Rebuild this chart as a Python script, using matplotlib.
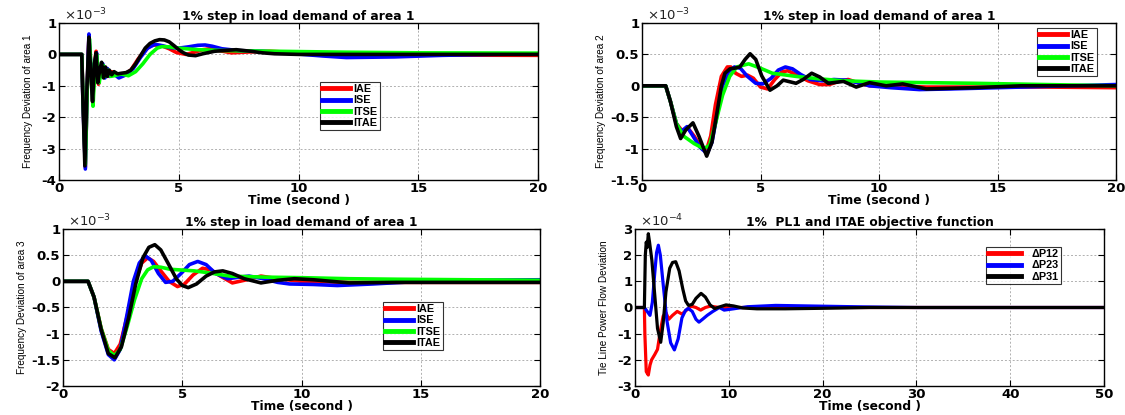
import matplotlib
matplotlib.use("Agg")
import matplotlib.pyplot as plt

# ---------------- data (values in units shown on each axis) ----------------
# Panel 1: frequency deviation of area 1 (x1e-3)
p1_iae_t = [0, 0.95, 1.0, 1.1, 1.18, 1.25, 1.33, 1.41, 1.48, 1.55, 1.65, 1.73, 1.8, 1.9, 2.0, 2.1, 2.2, 2.4, 2.7, 3.0, 3.3, 3.6, 3.85, 4.0, 4.3, 4.6, 4.9, 5.3, 5.7, 6.0, 6.3, 6.7, 7.2, 8.0, 8.8, 10, 12, 15, 20]
p1_iae_v = [0, 0, -1.4, -3.6, -1.0, 0.6, -0.5, -1.55, -0.3, 0.1, -0.95, -0.5, -0.3, -0.7, -0.45, -0.7, -0.55, -0.62, -0.65, -0.5, -0.15, 0.15, 0.28, 0.3, 0.27, 0.18, 0.06, 0.0, 0.08, 0.15, 0.18, 0.12, 0.05, 0.08, 0.1, 0.05, 0.0, -0.02, -0.03]

p1_ise_t = [0, 0.95, 1.0, 1.1, 1.18, 1.25, 1.33, 1.41, 1.48, 1.57, 1.66, 1.75, 1.83, 1.92, 2.02, 2.12, 2.25, 2.5, 2.8, 3.1, 3.4, 3.7, 4.0, 4.3, 4.6, 5.0, 5.4, 5.8, 6.1, 6.4, 6.8, 7.5, 8.5, 9.5, 11, 12, 14, 16, 18, 20]
p1_ise_v = [0, 0, -1.5, -3.65, -1.0, 0.65, -0.4, -1.5, -0.3, 0.05, -0.9, -0.45, -0.3, -0.75, -0.45, -0.7, -0.6, -0.75, -0.65, -0.45, -0.1, 0.2, 0.32, 0.28, 0.22, 0.2, 0.24, 0.29, 0.3, 0.26, 0.18, 0.12, 0.1, 0.04, -0.05, -0.1, -0.08, -0.03, 0.0, 0.02]

p1_itse_t = [0, 0.95, 1.0, 1.1, 1.18, 1.27, 1.35, 1.42, 1.5, 1.57, 1.68, 1.77, 1.85, 1.95, 2.05, 2.15, 2.3, 2.6, 2.9, 3.2, 3.5, 3.8, 4.1, 4.3, 4.6, 5.0, 5.8, 7.0, 9.0, 12, 15, 20]
p1_itse_v = [0, 0, -1.3, -3.5, -1.1, 0.5, -0.6, -1.65, -0.4, 0.0, -0.9, -0.45, -0.35, -0.7, -0.5, -0.7, -0.68, -0.62, -0.68, -0.55, -0.3, 0.0, 0.2, 0.25, 0.24, 0.2, 0.15, 0.12, 0.1, 0.07, 0.05, 0.04]

p1_itae_t = [0, 0.95, 1.0, 1.08, 1.17, 1.25, 1.32, 1.4, 1.48, 1.55, 1.62, 1.7, 1.78, 1.86, 1.94, 2.02, 2.1, 2.2, 2.3, 2.45, 2.6, 2.8, 3.0, 3.2, 3.4, 3.6, 3.8, 4.0, 4.2, 4.4, 4.6, 4.8, 5.0, 5.2, 5.4, 5.7, 6.0, 6.5, 7.0, 7.4, 8.0, 8.5, 9.0, 10, 12, 14, 16, 18, 20]
p1_itae_v = [0, 0, -1.5, -3.55, -1.0, 0.55, -0.5, -1.5, -0.3, 0.05, -0.9, -0.5, -0.25, -0.75, -0.4, -0.7, -0.5, -0.65, -0.55, -0.62, -0.6, -0.58, -0.5, -0.3, -0.05, 0.2, 0.35, 0.43, 0.47, 0.46, 0.4, 0.28, 0.15, 0.05, -0.02, -0.04, 0.02, 0.1, 0.13, 0.15, 0.1, 0.05, 0.02, 0.0, 0.0, 0.0, 0.0, 0.0, 0.0]

# Panel 2: frequency deviation of area 2 (x1e-3)
p2_iae_t = [0, 1.0, 1.2, 1.45, 1.7, 1.95, 2.2, 2.5, 2.7, 2.9, 3.1, 3.35, 3.6, 3.75, 3.95, 4.2, 4.45, 4.7, 5.0, 5.3, 5.6, 5.9, 6.15, 6.5, 7.0, 7.5, 7.9, 8.3, 8.7, 9.1, 9.6, 10.5, 12, 14, 17, 20]
p2_iae_v = [0, 0, -0.25, -0.6, -0.72, -0.68, -0.8, -0.98, -1.05, -0.8, -0.3, 0.15, 0.3, 0.3, 0.2, 0.15, 0.17, 0.12, -0.02, -0.05, 0.1, 0.22, 0.24, 0.18, 0.08, 0.02, 0.02, 0.07, 0.1, 0.05, 0.0, 0.0, -0.02, -0.02, -0.02, -0.03]

p2_ise_t = [0, 1.0, 1.2, 1.45, 1.65, 1.9, 2.15, 2.45, 2.75, 2.95, 3.15, 3.4, 3.65, 3.9, 4.15, 4.45, 4.8, 5.1, 5.45, 5.75, 6.05, 6.35, 6.7, 7.1, 7.6, 8.1, 8.6, 9.1, 9.6, 10.5, 11.7, 13, 15, 17, 20]
p2_ise_v = [0, 0, -0.25, -0.6, -0.73, -0.65, -0.8, -0.98, -1.08, -0.9, -0.5, 0.0, 0.22, 0.3, 0.28, 0.15, 0.04, 0.03, 0.12, 0.25, 0.3, 0.27, 0.18, 0.1, 0.08, 0.1, 0.09, 0.05, 0.0, -0.03, -0.06, -0.05, -0.03, -0.01, 0.02]

p2_itse_t = [0, 1.0, 1.2, 1.45, 1.75, 2.2, 2.6, 2.85, 3.1, 3.4, 3.7, 4.0, 4.5, 5.0, 5.5, 6.5, 7.5, 8.5, 10, 12, 14, 17, 20]
p2_itse_v = [0, 0, -0.25, -0.6, -0.8, -0.92, -1.0, -0.95, -0.6, -0.15, 0.15, 0.3, 0.35, 0.28, 0.2, 0.15, 0.11, 0.08, 0.06, 0.05, 0.04, 0.02, 0.0]

p2_itae_t = [0, 1.0, 1.2, 1.45, 1.63, 1.85, 2.15, 2.4, 2.73, 2.95, 3.16, 3.35, 3.5, 3.71, 3.9, 4.13, 4.35, 4.56, 4.8, 5.05, 5.4, 5.7, 5.96, 6.5, 6.8, 7.16, 7.5, 7.86, 8.5, 9.04, 9.6, 10.3, 11, 12, 13, 14, 16, 20]
p2_itae_v = [0, 0, -0.25, -0.65, -0.84, -0.7, -0.59, -0.8, -1.12, -0.9, -0.44, 0.0, 0.2, 0.27, 0.28, 0.3, 0.42, 0.51, 0.42, 0.16, -0.07, 0.0, 0.09, 0.04, 0.1, 0.2, 0.14, 0.04, 0.07, -0.02, 0.05, 0.0, 0.03, -0.05, -0.04, -0.03, 0.0, 0.0]

# Panel 3: frequency deviation of area 3 (x1e-3)
p3_iae_t = [0, 1.05, 1.3, 1.6, 1.9, 2.15, 2.4, 2.7, 3.0, 3.3, 3.55, 3.8, 4.1, 4.45, 4.8, 5.1, 5.45, 5.85, 6.2, 6.6, 7.1, 7.6, 8.3, 9.0, 10, 12, 15, 20]
p3_iae_v = [0, 0, -0.3, -0.9, -1.3, -1.38, -1.2, -0.65, -0.05, 0.35, 0.45, 0.38, 0.2, 0.0, -0.1, -0.05, 0.12, 0.25, 0.22, 0.1, -0.03, 0.02, 0.1, 0.05, 0.0, -0.02, -0.02, -0.02]

p3_ise_t = [0, 1.05, 1.3, 1.6, 1.9, 2.15, 2.4, 2.7, 2.95, 3.2, 3.45, 3.7, 4.0, 4.3, 4.6, 4.95, 5.3, 5.65, 6.0, 6.4, 6.9, 7.4, 7.8, 8.4, 9.0, 9.5, 10.5, 11.5, 13, 15, 17, 20]
p3_ise_v = [0, 0, -0.3, -0.95, -1.4, -1.5, -1.3, -0.6, 0.0, 0.35, 0.49, 0.4, 0.15, -0.02, 0.0, 0.15, 0.32, 0.38, 0.32, 0.15, 0.05, 0.08, 0.1, 0.05, -0.02, -0.05, -0.06, -0.08, -0.05, 0.0, 0.02, 0.03]

p3_itse_t = [0, 1.05, 1.3, 1.6, 1.9, 2.15, 2.4, 2.7, 3.0, 3.3, 3.55, 3.8, 4.1, 4.5, 5.5, 6.0, 7.0, 8.5, 10, 12, 14, 17, 20]
p3_itse_v = [0, 0, -0.3, -0.9, -1.32, -1.42, -1.3, -0.85, -0.35, 0.05, 0.22, 0.28, 0.27, 0.23, 0.2, 0.17, 0.1, 0.08, 0.07, 0.05, 0.04, 0.03, 0.02]

p3_itae_t = [0, 1.05, 1.3, 1.6, 1.9, 2.18, 2.45, 2.75, 3.05, 3.35, 3.6, 3.85, 4.1, 4.4, 4.75, 5.0, 5.25, 5.6, 6.0, 6.35, 6.7, 7.1, 7.6, 8.3, 9.0, 9.7, 10.5, 12, 14, 17, 20]
p3_itae_v = [0, 0, -0.3, -0.92, -1.38, -1.46, -1.25, -0.7, -0.05, 0.45, 0.65, 0.7, 0.6, 0.35, 0.05, -0.08, -0.12, -0.05, 0.1, 0.18, 0.2, 0.15, 0.05, -0.03, 0.02, 0.05, 0.03, -0.03, -0.02, -0.02, -0.02]

# Panel 4: tie line power flow deviation (x1e-4)
p4_p12_t = [0, 1.0, 1.05, 1.2, 1.42, 1.6, 1.77, 2.1, 2.4, 2.7, 3.0, 3.3, 3.6, 4.0, 4.5, 5.0, 5.5, 6.0, 6.5, 7.0, 7.5, 8.0, 9.0, 10, 12, 15, 20, 30, 40, 50]
p4_p12_v = [0, 0, -1.0, -2.45, -2.58, -2.2, -2.0, -1.8, -1.6, -0.9, -0.33, -0.2, -0.45, -0.3, -0.15, -0.25, -0.1, 0.05, 0.0, -0.1, 0.0, 0.05, 0.0, 0.0, 0.0, 0.0, 0.0, 0.0, 0.0, 0.0]

p4_p23_t = [0, 1.0, 1.3, 1.6, 1.85, 2.1, 2.3, 2.49, 2.7, 3.0, 3.4, 3.8, 4.2, 4.6, 5.0, 5.4, 5.7, 6.1, 6.5, 6.82, 7.2, 7.7, 8.3, 9.0, 9.5, 10.5, 12, 15, 20, 25, 30, 40, 50]
p4_p23_v = [0, 0, -0.15, -0.3, 0.2, 1.3, 2.1, 2.38, 2.0, 0.9, -0.5, -1.35, -1.62, -1.2, -0.4, -0.1, -0.04, -0.15, -0.45, -0.56, -0.45, -0.3, -0.15, 0.0, -0.1, -0.05, 0.03, 0.08, 0.05, 0.02, 0.0, 0.0, 0.0]

p4_p31_t = [0, 1.0, 1.1, 1.2, 1.3, 1.42, 1.55, 1.8, 2.1, 2.4, 2.74, 3.0, 3.3, 3.7, 4.0, 4.34, 4.7, 5.1, 5.4, 5.7, 6.1, 6.5, 7.04, 7.5, 8.0, 8.5, 9.0, 9.7, 10.5, 11.5, 13, 16, 20, 25, 30, 40, 50]
p4_p31_v = [0, 0, 2.0, 2.5, 2.3, 2.82, 2.5, 1.8, 0.5, -0.8, -1.33, -0.6, 0.6, 1.5, 1.72, 1.75, 1.4, 0.7, 0.25, 0.08, 0.12, 0.35, 0.54, 0.4, 0.1, -0.04, 0.02, 0.1, 0.06, -0.02, -0.05, -0.05, -0.03, 0.0, 0.0, 0.0, 0.0]

legend_area = ["IAE", "ISE", "ITSE", "ITAE"]
legend_tie = ["\u0394P12", "\u0394P23", "\u0394P31"]
titles = ["1% step in load demand of area 1", "1% step in load demand of area 1",
          "1% step in load demand of area 1", "1%  PL1 and ITAE objective function"]
ylabels = ["Frequency Deviation of area 1", "Frequency Deviation of area 2",
           "Frequency Deviation of area 3", "Tie Line Power Flow Deviation"]
xlabel = "Time (second )"

p1_yticks = [-4, -3, -2, -1, 0, 1]
p2_yticks = [-1.5, -1, -0.5, 0, 0.5, 1]
p3_yticks = [-2, -1.5, -1, -0.5, 0, 0.5, 1]
p4_yticks = [-3, -2, -1, 0, 1, 2, 3]
p123_xticks = [0, 5, 10, 15, 20]
p4_xticks = [0, 10, 20, 30, 40, 50]

colors4 = ["#ff0000", "#0000ff", "#00ff00", "#000000"]
colors3 = ["#ff0000", "#0000ff", "#000000"]

# ---------------- drawing ----------------
plt.rcParams["font.family"] = ["DejaVu Sans"]
W, H = 1125, 415
fig = plt.figure(figsize=(W / 100, H / 100), dpi=100)
fig.patch.set_facecolor("white")

def box(l, t, r, b):
    return [l / W, 1 - b / H, (r - l) / W, (b - t) / H]

axes = [fig.add_axes(box(59, 23, 538, 180)),
        fig.add_axes(box(642, 23, 1116, 180)),
        fig.add_axes(box(63, 229, 540, 386)),
        fig.add_axes(box(635, 229, 1104, 386))]

def fmt(v):
    return "%g" % v

def style(ax, xticks, yticks, xlim, ylim, title, ylabel, exp, ylpad):
    ax.set_xlim(*xlim)
    ax.set_ylim(*ylim)
    ax.set_xticks(xticks)
    ax.set_yticks(yticks)
    ax.set_xticklabels([fmt(v) for v in xticks], fontsize=9.5, fontweight="bold")
    ax.set_yticklabels([fmt(v) for v in yticks], fontsize=9.5, fontweight="bold")
    ax.tick_params(direction="in", length=4, width=0.8, top=True, right=True, pad=2)
    ax.tick_params(axis="x", pad=1.5)
    ax.grid(True, linestyle=(0, (2, 2)), color="#b0b0b0", linewidth=0.7)
    for sp in ax.spines.values():
        sp.set_linewidth(1.0)
    ax.set_title(title, fontsize=8.8, fontweight="bold", pad=2)
    ax.set_xlabel(xlabel, fontsize=8.8, fontweight="bold", labelpad=-1)
    ax.set_ylabel(ylabel, fontsize=7.2, family=["Liberation Sans", "DejaVu Sans"], labelpad=ylpad)
    ax.text(0.01, 1.0, "\u00d710$^{%d}$" % exp, transform=ax.transAxes,
            fontsize=9.5, va="bottom", ha="left", color="#222222")

lw = 2.6
ax = axes[0]
for t, v, c, lab in zip([p1_iae_t, p1_ise_t, p1_itse_t, p1_itae_t],
                        [p1_iae_v, p1_ise_v, p1_itse_v, p1_itae_v], colors4, legend_area):
    ax.plot(t, v, color=c, lw=lw, label=lab, solid_joinstyle="round")
style(ax, p123_xticks, p1_yticks, (0, 20), (-4, 1), titles[0], ylabels[0], -3, 6)

ax = axes[1]
for t, v, c, lab in zip([p2_iae_t, p2_ise_t, p2_itse_t, p2_itae_t],
                        [p2_iae_v, p2_ise_v, p2_itse_v, p2_itae_v], colors4, legend_area):
    ax.plot(t, v, color=c, lw=lw, label=lab, solid_joinstyle="round")
style(ax, p123_xticks, p2_yticks, (0, 20), (-1.5, 1), titles[1], ylabels[1], -3, 3)

ax = axes[2]
for t, v, c, lab in zip([p3_iae_t, p3_ise_t, p3_itse_t, p3_itae_t],
                        [p3_iae_v, p3_ise_v, p3_itse_v, p3_itae_v], colors4, legend_area):
    ax.plot(t, v, color=c, lw=lw, label=lab, solid_joinstyle="round")
style(ax, p123_xticks, p3_yticks, (0, 20), (-2, 1), titles[2], ylabels[2], -3, 3)

ax = axes[3]
for t, v, c, lab in zip([p4_p12_t, p4_p23_t, p4_p31_t],
                        [p4_p12_v, p4_p23_v, p4_p31_v], colors3, legend_tie):
    ax.plot(t, v, color=c, lw=2.3, label=lab, solid_joinstyle="round")
style(ax, p4_xticks, p4_yticks, (0, 50), (-3, 3), titles[3], ylabels[3], -4, 6)

def legend(ax, l, t, r, b, tpad=0.3, hlen=2.6):
    x0, y0, w, h = box(l, t, r, b)
    leg = ax.legend(loc="upper left", bbox_to_anchor=(x0, y0 + h, w, 0),
                    bbox_transform=fig.transFigure,
                    prop={"weight": "bold", "size": 7.8, "family": "Liberation Sans"},
                    frameon=True, fancybox=False,
                    edgecolor="black", borderpad=0.2, labelspacing=0.12,
                    handlelength=hlen, handletextpad=tpad, borderaxespad=0)
    leg.get_frame().set_linewidth(0.8)
    for ln in leg.get_lines():
        ln.set_linewidth(3.5)
    return leg

legend(axes[0], 320, 82, 389, 126)
legend(axes[1], 1037, 28, 1104, 73)
legend(axes[2], 383, 302, 453, 347)
legend(axes[3], 986, 247, 1064, 278, tpad=1.0, hlen=3.0)

fig.savefig("out.png", dpi=100)
